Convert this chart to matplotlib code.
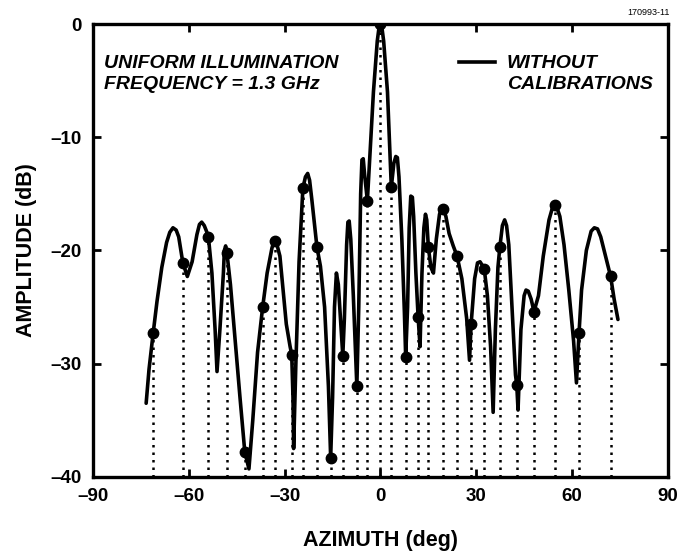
import numpy as np
import matplotlib
matplotlib.use("Agg")
import matplotlib.pyplot as plt

plt.rcParams['font.family'] = ['Liberation Sans', 'DejaVu Sans']

curva_az = [-73.4, -72.5, -71.2, -70.0, -68.5, -67.0, -66.0, -65.0, -64.0, -63.2,
            -61.9, -60.5, -59.0, -57.5, -56.7, -56.0, -55.2, -54.5, -53.9, -52.8,
            -51.8, -51.2, -50.3, -49.2, -48.9, -48.5, -48.1, -47.0, -45.5, -44.0,
            -42.5, -41.2, -40.0, -38.5, -36.9, -35.5, -34.0, -33.5, -33.1, -32.5,
            -31.5, -30.5, -29.5, -28.3, -27.8, -27.4, -27.2, -26.5, -25.5, -24.3,
            -23.5, -22.8, -22.2, -21.5, -19.9, -18.8, -17.5, -16.3, -15.6, -15.0,
            -14.4, -13.8, -13.2, -12.3, -11.8, -11.3, -10.6, -10.2, -9.8, -9.3,
            -8.5, -7.7, -7.4, -6.8, -6.2, -5.8, -5.4, -4.9, -4.1, -3.2,
            -2.2, -1.0, -0.4, 0.0, 0.4, 1.0, 2.2, 3.4, 4.2, 4.8,
            5.3, 5.8, 6.7, 7.5, 7.9, 8.5, 9.0, 9.5, 10.0, 10.4,
            11.1, 11.8, 12.4, 13.0, 13.6, 14.1, 14.5, 15.0, 15.8, 16.6,
            17.5, 18.5, 19.2, 19.8, 20.5, 21.5, 22.8, 24.0, 25.5, 27.0,
            27.9, 28.4, 29.5, 30.4, 31.2, 32.5, 33.5, 34.5, 35.3, 36.0,
            36.8, 37.4, 38.2, 38.9, 39.5, 40.2, 41.2, 42.3, 42.7, 43.1,
            44.0, 45.0, 45.6, 46.3, 47.2, 48.1, 49.5, 51.0, 52.8, 53.8,
            54.6, 55.4, 56.2, 57.5, 59.0, 60.5, 61.4, 62.2, 63.0, 64.5,
            66.0, 67.0, 68.0, 69.0, 70.5, 72.1, 73.2, 74.4]
curva_db = [-33.5, -30.5, -27.3, -24.5, -21.5, -19.3, -18.4, -18.0, -18.2, -18.8,
            -21.1, -22.3, -21.0, -18.6, -17.7, -17.5, -17.8, -18.3, -18.8, -22.0,
            -27.0, -30.7, -27.0, -22.0, -20.0, -19.6, -20.2, -23.0, -28.0, -33.0,
            -37.8, -39.3, -35.0, -29.0, -25.0, -22.0, -19.8, -19.3, -19.2, -19.4,
            -20.5, -23.5, -26.5, -28.5, -29.2, -33.0, -37.5, -30.0, -21.0, -14.5,
            -13.5, -13.2, -13.8, -15.5, -19.7, -21.4, -25.0, -32.0, -38.3, -33.0,
            -25.0, -22.0, -23.0, -27.0, -29.3, -26.0, -19.5, -17.5, -17.4, -19.0,
            -24.0, -30.0, -32.0, -25.0, -15.0, -12.0, -11.9, -13.5, -15.6, -11.0,
            -6.0, -1.5, -0.2, 0.0, -0.2, -1.5, -6.0, -14.4, -12.3, -11.7,
            -11.8, -13.5, -19.0, -25.5, -29.4, -25.0, -18.0, -15.2, -15.3, -17.0,
            -22.0, -25.9, -28.5, -22.0, -18.0, -16.8, -17.3, -19.7, -21.5, -22.0,
            -19.0, -16.8, -16.3, -16.4, -17.0, -18.5, -19.6, -20.5, -22.5, -26.0,
            -29.7, -26.5, -22.5, -21.1, -21.0, -21.6, -24.0, -28.5, -34.3, -27.0,
            -21.5, -19.7, -17.8, -17.3, -17.8, -19.5, -25.0, -31.0, -31.9, -34.1,
            -27.0, -24.0, -23.5, -23.6, -24.3, -25.4, -24.0, -20.5, -17.3, -16.3,
            -16.0, -16.3, -17.0, -19.5, -23.5, -28.0, -31.7, -27.3, -23.5, -20.0,
            -18.3, -18.0, -18.1, -18.8, -20.5, -22.3, -24.3, -26.1]

# Muestras (puntos con linea punteada hasta -40 dB)
muestras_az = [-71.2, -61.9, -53.9, -48.1, -42.5, -36.9, -33.1, -27.8, -24.3, -19.9,
               -15.6, -11.8, -7.4, -4.1, 0.0, 3.4, 7.9, 11.8, 15.0, 19.5,
               24.0, 28.4, 32.5, 37.4, 42.7, 48.1, 54.6, 62.2, 72.1]
muestras_db = [-27.3, -21.1, -18.8, -20.2, -37.8, -25.0, -19.2, -29.2, -14.5, -19.7,
               -38.3, -29.3, -32.0, -15.6, 0.0, -14.4, -29.4, -25.9, -19.7, -16.3,
               -20.5, -26.5, -21.6, -19.7, -31.9, -25.4, -16.0, -27.3, -22.3]

x_ticks = [-90, -60, -30, 0, 30, 60, 90]
y_ticks = [0, -10, -20, -30, -40]

fig = plt.figure(figsize=(6.8, 5.59), dpi=100)
ax = fig.add_axes([0.137, 0.147, 0.845, 0.810])

# Lineas punteadas verticales desde cada muestra hasta el fondo
ax.vlines(muestras_az, -40, muestras_db, colors='black', linestyles=(0, (1, 2)), linewidth=1.8)
# Curva del patron
ax.plot(curva_az, curva_db, color='black', linewidth=2.6,
        solid_joinstyle='round', solid_capstyle='round')
# Puntos de muestra
ax.plot(muestras_az, muestras_db, 'o', color='black', markersize=7.5)

ax.set_xlim(-90, 90)
ax.set_ylim(-40, 0)
ax.set_xticks(x_ticks)
ax.set_yticks(y_ticks)
ax.set_xticklabels([str(t).replace('-', '\u2013') for t in x_ticks], fontweight='bold', fontsize=13.5)
ax.set_yticklabels([str(t).replace('-', '\u2013') for t in y_ticks], fontweight='bold', fontsize=13.5)
ax.tick_params(direction='in', length=6, width=2, top=True, right=True, pad=8)
for s in ax.spines.values():
    s.set_linewidth(2.4)

ax.set_xlabel('AZIMUTH (deg)', fontweight='bold', fontsize=15.5, labelpad=18)
ax.set_ylabel('AMPLITUDE (dB)', fontweight='bold', fontsize=15.5, labelpad=10)

# Textos y leyenda
ax.text(-86.5, -4.4, 'UNIFORM ILLUMINATION\nFREQUENCY = 1.3 GHz', fontsize=14,
        fontstyle='italic', fontweight='bold', va='center', ha='left', linespacing=1.3)
ax.plot([24.5, 36], [-3.35, -3.35], color='black', linewidth=2.6)
ax.text(39.5, -4.4, 'WITHOUT\nCALIBRATIONS', fontsize=14, fontstyle='italic',
        fontweight='bold', va='center', ha='left', linespacing=1.3)
fig.text(0.985, 0.977, '170993-11', fontsize=6.5, ha='right', va='center')

fig.savefig('out.png', dpi=100)
